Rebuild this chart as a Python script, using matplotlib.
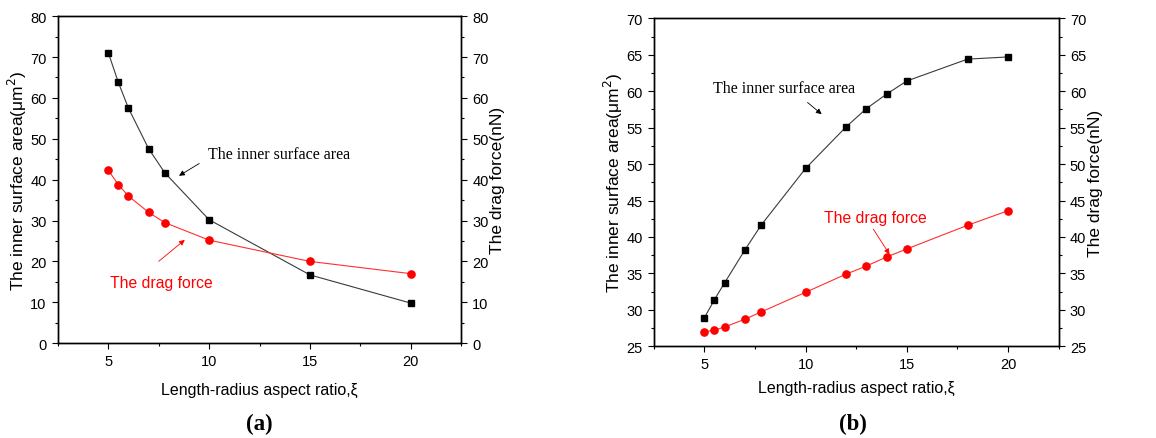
import numpy as np
import matplotlib
matplotlib.use('Agg')
from matplotlib import pyplot as plt
from matplotlib.ticker import MultipleLocator

# panel (a)
xi_a = [5, 5.5, 6, 7, 7.8, 10, 15, 20]
area_a = [71.1, 63.8, 57.5, 47.6, 41.7, 30.2, 16.7, 9.8]
drag_a = [42.3, 38.8, 36.0, 32.0, 29.5, 25.2, 20.0, 17.0]

# panel (b)
xi_b = [5, 5.5, 6, 7, 7.8, 10, 12, 13, 14, 15, 18, 20]
area_b = [28.9, 31.4, 33.7, 38.2, 41.6, 49.4, 55.1, 57.6, 59.6, 61.4, 64.4, 64.7]
drag_b = [27.0, 27.2, 27.65, 28.7, 29.7, 32.4, 34.9, 36.0, 37.25, 38.35, 41.6, 43.6]

x_ticks = [5, 10, 15, 20]

plt.rcParams['font.family'] = ['Liberation Sans', 'DejaVu Sans']
plt.rcParams['font.size'] = 10
plt.rcParams['axes.linewidth'] = 1.0

SERIF = ['Liberation Serif', 'DejaVu Serif']


def style_axis(ax, ylim, major, minor):
    ax.set_xlim(2.5, 22.5)
    ax.set_ylim(*ylim)
    ax.xaxis.set_major_locator(plt.FixedLocator(x_ticks))
    ax.xaxis.set_minor_locator(MultipleLocator(2.5))
    ax.yaxis.set_major_locator(MultipleLocator(major))
    ax.yaxis.set_minor_locator(MultipleLocator(minor))
    ax.tick_params(which='major', direction='out', length=4.5, width=0.8, labelsize=10.5)
    ax.tick_params(which='minor', direction='out', length=2.5, width=0.8)


def draw_panel(ax, xs, area, drag, ylim, major, minor, notes, tag, tag_x, xpad):
    ax2 = ax.twinx()
    style_axis(ax, ylim, major, minor)
    style_axis(ax2, ylim, major, minor)
    ax.plot(xs, area, color='#3a3a3a', lw=0.8, marker='s', ms=4.5,
            mfc='black', mec='black', zorder=3)
    ax2.plot(xs, drag, color='#ff3030', lw=0.8, marker='o', ms=5.2,
             mfc='#ff0000', mec='#ff0000', zorder=3)
    ax.set_xlabel('Length-radius aspect ratio,\u03be', fontsize=11.5, labelpad=xpad)
    ax.set_ylabel('The inner surface area(\u03bcm$^2$)', fontsize=12.5, labelpad=1)
    ax2.set_ylabel('The drag force(nN)', fontsize=12.5, labelpad=1)

    (t1, a1s, a1e), (t2, a2s, a2e) = notes
    ax.text(t1[0], t1[1], 'The inner surface area', family=SERIF, fontsize=11.5,
            va='center', ha='left')
    ax.annotate('', xy=a1e, xytext=a1s,
                arrowprops=dict(arrowstyle='-|>', color='black', lw=0.6,
                                mutation_scale=8))
    ax.text(t2[0], t2[1], 'The drag force', color='#ff0000', fontsize=11.3,
            va='center', ha='left')
    ax.annotate('', xy=a2e, xytext=a2s,
                arrowprops=dict(arrowstyle='-|>', color='#ff0000', lw=0.6,
                                mutation_scale=8))
    ax.figure.text(tag_x, 0.032, tag, family=SERIF, fontsize=16.5,
                   ha='center', va='center', fontweight='bold')
    return ax2


fig = plt.figure(figsize=(11.56, 4.39), dpi=100)

ax_a = fig.add_axes([0.050, 0.216, 0.349, 0.745])
draw_panel(ax_a, xi_a, area_a, drag_a, (0, 80), 10, 5,
           [((9.95, 46.2), (9.63, 44.3), (8.39, 40.6)),
            ((5.1, 14.9), (7.4, 19.6), (8.9, 25.7))],
           '(a)', 0.224, 10)

ax_b = fig.add_axes([0.5655, 0.209, 0.3503, 0.747])
draw_panel(ax_b, xi_b, area_b, drag_b, (25, 70), 5, 2.5,
           [((5.42, 60.4), (9.99, 58.7), (10.9, 56.6)),
            ((10.9, 42.7), (13.27, 41.4), (14.22, 37.3))],
           '(b)', 0.738, 6)

fig.savefig('out.png', dpi=100)
plt.close(fig)
